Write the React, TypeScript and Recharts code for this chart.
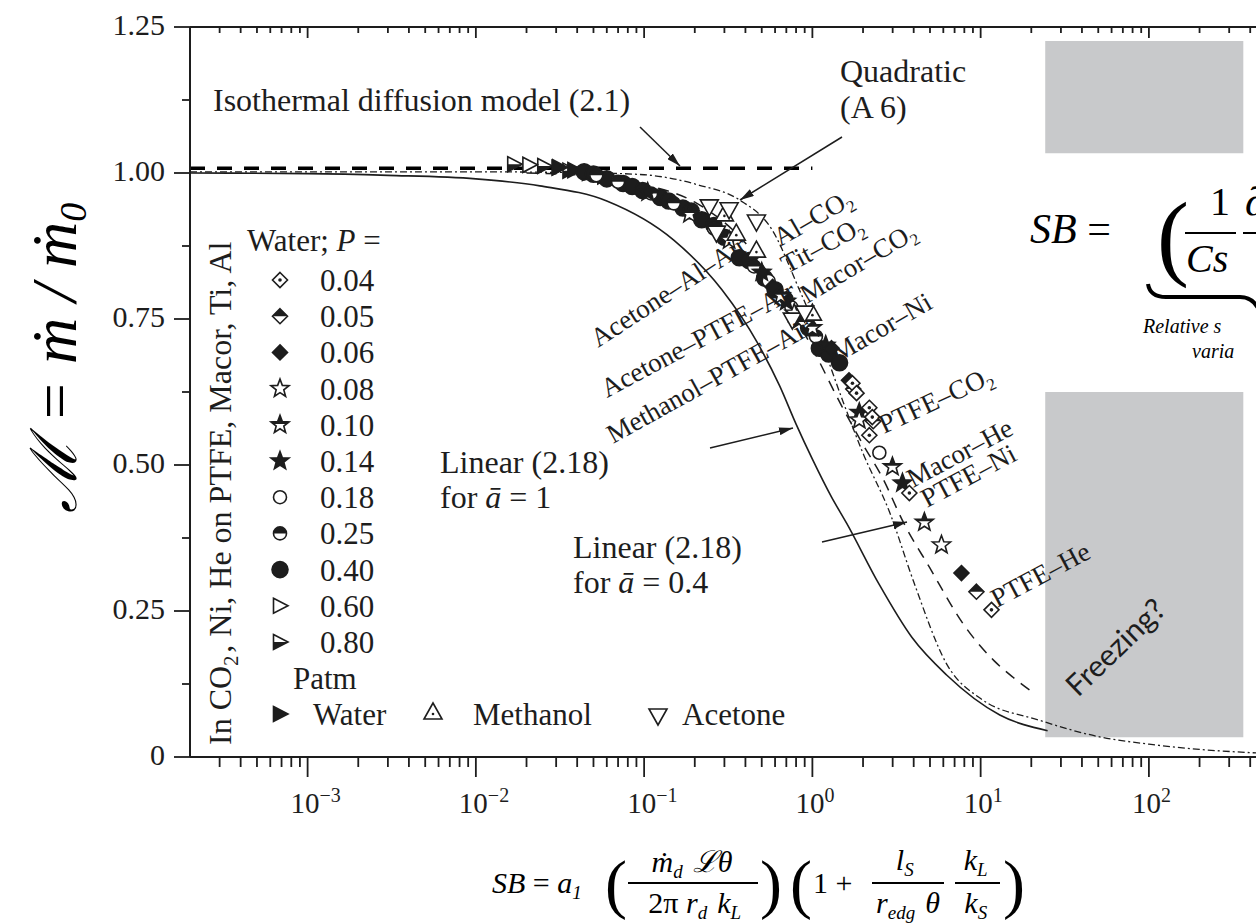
import React from "react";
import { ComposedChart, Line, Scatter, XAxis, YAxis, ReferenceArea } from "recharts";

const INK = "#1d1d1d";
const SERIF = '"Liberation Serif", "DejaVu Serif", serif';
const SANS = 'Lato, "Open Sans", sans-serif';

// axes
const xDomain = [0.0002, 433];
const xMajor = [0.001, 0.01, 0.1, 1, 10, 100];
const xMajorExp = ["−3", "−2", "−1", "0", "1", "2"];
const yMajor = [0, 0.25, 0.5, 0.75, 1, 1.25];
const yMajorLabels = ["0", "0.25", "0.50", "0.75", "1.00", "1.25"];
const yMinor = [0.125, 0.375, 0.625, 0.875, 1.125];

const xMinor: number[] = [];
for (let e = -4; e <= 2; e++) {
  for (let m = 2; m <= 9; m++) {
    const v = Number((m * Math.pow(10, e)).toPrecision(3));
    if (v > 0.0002001 && v < 433) xMinor.push(v);
  }
}
const xTicks = [...xMinor, ...xMajor].sort((a, b) => a - b);
const yTicks = [...yMajor, ...yMinor].sort((a, b) => a - b);

// model curves (SB, M)
const isothermal = [[0.0002, 1.008], [1, 1.008]];
const linearA1 = [
  [0.0002, 1.0], [0.001, 0.999], [0.003, 0.996], [0.01, 0.99], [0.024, 0.978],
  [0.06, 0.952], [0.15, 0.885], [0.29, 0.8], [0.47, 0.71], [0.64, 0.635],
  [0.8, 0.57], [1.0, 0.51], [1.3, 0.445], [1.6, 0.4], [2.5, 0.295],
  [3.9, 0.205], [6.3, 0.14], [13, 0.072], [25, 0.045],
];
const quadratic = [
  [0.0002, 1.002], [0.01, 1.002], [0.05, 1.0], [0.1, 0.997], [0.213, 0.979],
  [0.368, 0.954], [0.578, 0.902], [0.837, 0.8], [1.1, 0.72], [1.51, 0.611],
  [2.0, 0.52], [2.87, 0.42], [4.0, 0.3], [6.26, 0.16], [10, 0.1],
  [22.3, 0.063], [50, 0.035], [100, 0.022], [200, 0.013], [433, 0.007],
];
const linearA04 = [
  [0.02, 1.0], [0.05, 0.995], [0.1, 0.98], [0.2, 0.95], [0.4, 0.88],
  [0.7, 0.78], [1.0, 0.7], [1.5, 0.6], [2.0, 0.535], [2.6, 0.479],
  [3.5, 0.4], [4.96, 0.325], [8, 0.225], [12, 0.165], [15.5, 0.137], [19.5, 0.115],
];

// experimental points (SB, M)
const waterP004 = [[1.73, 0.64], [1.83, 0.623], [2.18, 0.598], [2.27, 0.582], [2.18, 0.551], [3.77, 0.452], [11.6, 0.252]];
const waterP005 = [[0.9, 0.745], [1.75, 0.63], [2.3, 0.575], [9.44, 0.283]];
const waterP006 = [[0.58, 0.805], [1.3, 0.7], [1.65, 0.645], [7.69, 0.315]];
const waterP008 = [[0.32, 0.885], [0.78, 0.76], [1.9, 0.577], [5.85, 0.363]];
const waterP010 = [[0.186, 0.93], [0.65, 0.79], [1.0, 0.735], [2.99, 0.497], [4.63, 0.402]];
const waterP014 = [[0.105, 0.967], [0.5, 0.83], [0.7, 0.78], [0.85, 0.75], [1.2, 0.705], [1.9, 0.59], [3.43, 0.469]];
const waterP018 = [[0.55, 0.815], [0.75, 0.77], [2.5, 0.521]];
const waterP025 = [[0.052, 0.996], [0.07, 0.985], [0.11, 0.965], [0.15, 0.948], [0.26, 0.905], [0.45, 0.84], [0.7, 0.785], [1.05, 0.72]];
const waterP040 = [
  [0.044, 1.002], [0.05, 0.998], [0.06, 0.99], [0.075, 0.982], [0.085, 0.977], [0.098, 0.97],
  [0.125, 0.958], [0.14, 0.952], [0.17, 0.94], [0.19, 0.935], [0.22, 0.92], [0.26, 0.91],
  [0.3, 0.89], [0.368, 0.855], [0.42, 0.85], [0.52, 0.82], [0.6, 0.8], [0.95, 0.735],
  [1.1, 0.7], [1.25, 0.69], [1.45, 0.675],
];
const waterP060 = [[0.0208, 1.014], [0.031, 1.009]];
const waterP080 = [[0.0169, 1.015], [0.0255, 1.012], [0.036, 1.004]];
const waterPatm = [[0.0313, 1.01], [0.0385, 1.005], [0.047, 1.0], [0.058, 0.994]];
const methanol = [[0.3, 0.93], [0.353, 0.897], [0.465, 0.868], [1.0, 0.76]];
const acetone = [[0.244, 0.942], [0.32, 0.937], [0.465, 0.916], [0.269, 0.897], [0.76, 0.748], [0.9, 0.76]];

const legendLabels = ["0.04", "0.05", "0.06", "0.08", "0.10", "0.14", "0.18", "0.25", "0.40", "0.60", "0.80"];
const legendKinds = ["diamondDot", "diamondHalf", "diamondFill", "starOpen", "starHalf", "starFill", "circleOpen", "circleHalf", "circleFill", "triROpen", "triRHalf"];

const pts = (arr: number[][]) => arr.map(([x, y]) => ({ x, y }));

const starPath = (cx: number, cy: number, s: number) => {
  let d = "";
  for (let i = 0; i < 10; i++) {
    const r = i % 2 === 0 ? s : s * 0.42;
    const a = (-90 + i * 36) * (Math.PI / 180);
    d += (i === 0 ? "M" : "L") + (cx + r * Math.cos(a)).toFixed(2) + "," + (cy + r * Math.sin(a)).toFixed(2);
  }
  return d + "Z";
};

const Mark = ({ kind, cx, cy }: { kind: string; cx: number; cy: number }) => {
  const sw = 1.6;
  const open = { fill: "#fff", stroke: INK, strokeWidth: sw };
  const full = { fill: INK, stroke: INK, strokeWidth: sw };
  const s = 7.5;
  const diamond = `M${cx},${cy - s}L${cx + s},${cy}L${cx},${cy + s}L${cx - s},${cy}Z`;
  const triR = `M${cx - 6.5},${cy - 7.5}L${cx + 8},${cy}L${cx - 6.5},${cy + 7.5}Z`;
  switch (kind) {
    case "diamondDot":
      return <g><path d={diamond} {...open} /><circle cx={cx} cy={cy} r={1.8} fill={INK} /></g>;
    case "diamondHalf":
      return <g><path d={diamond} {...open} /><path d={`M${cx - s},${cy}L${cx},${cy - s}L${cx + s},${cy}Z`} fill={INK} /></g>;
    case "diamondFill":
      return <path d={diamond} {...full} />;
    case "starOpen":
      return <path d={starPath(cx, cy, 9.5)} {...open} />;
    case "starHalf":
      return <g><path d={starPath(cx, cy, 9.5)} {...open} /><path d={starPath(cx, cy, 9.5)} fill={INK} clipPath="url(#mk-top)" /></g>;
    case "starFill":
      return <path d={starPath(cx, cy, 9.5)} {...full} />;
    case "circleOpen":
      return <circle cx={cx} cy={cy} r={6.5} {...open} />;
    case "circleHalf":
      return <g><circle cx={cx} cy={cy} r={6.5} {...open} /><path d={`M${cx - 6.5},${cy}A6.5,6.5 0 0 1 ${cx + 6.5},${cy}Z`} fill={INK} /></g>;
    case "circleFill":
      return <circle cx={cx} cy={cy} r={8} {...full} />;
    case "triROpen":
      return <path d={triR} {...open} />;
    case "triRHalf":
      return <g><path d={triR} {...open} /><path d={`M${cx - 6.5},${cy}L${cx + 8},${cy}L${cx - 6.5},${cy + 7.5}Z`} fill={INK} /></g>;
    case "triRFill":
      return <path d={triR} {...full} />;
    case "triUp":
      return <g><path d={`M${cx},${cy - 9}L${cx + 9},${cy + 7}L${cx - 9},${cy + 7}Z`} {...open} /><circle cx={cx} cy={cy + 2} r={1.3} fill={INK} /></g>;
    case "triDown":
      return <path d={`M${cx - 9},${cy - 7}L${cx + 9},${cy - 7}L${cx},${cy + 9}Z`} {...open} />;
    default:
      return null;
  }
};

const shapeOf = (kind: string) => (p: any) => <Mark kind={kind} cx={p.cx} cy={p.cy} />;

const isMajorX = (v: number) => xMajor.findIndex((m) => Math.abs(Math.log10(v) - Math.log10(m)) < 1e-6);

const BottomTick = ({ x, y, payload }: any) => {
  const i = isMajorX(payload.value);
  return (
    <g>
      <line x1={x} x2={x} y1={y} y2={y + (i >= 0 ? 20 : 10)} stroke={INK} strokeWidth={1.8} />
      {i >= 0 && (
        <text x={x - 17} y={y + 56} fontFamily={SERIF} fontSize={29} fill={INK}>
          10<tspan dy={-11} fontSize={20}>{xMajorExp[i]}</tspan>
        </text>
      )}
    </g>
  );
};

const TopTick = ({ x, y, payload }: any) => {
  const i = isMajorX(payload.value);
  return <line x1={x} x2={x} y1={y} y2={y + (i >= 0 ? 11 : 6)} stroke={INK} strokeWidth={1.8} />;
};

const LeftTick = ({ x, y, payload }: any) => {
  const i = yMajor.findIndex((m) => Math.abs(m - payload.value) < 1e-6);
  return (
    <g>
      <line x1={x} x2={x - (i >= 0 ? 16 : 8)} y1={y} y2={y} stroke={INK} strokeWidth={1.8} />
      {i >= 0 && (
        <text x={x - 25} y={y + 8} textAnchor="end" fontFamily={SERIF} fontSize={30} fill={INK}>
          {yMajorLabels[i]}
        </text>
      )}
    </g>
  );
};

const RotLabel = ({ x, y, a, children, size = 27, font = SERIF }: any) => (
  <text transform={`translate(${x},${y}) rotate(${a})`} fontFamily={font} fontSize={size} fill={INK}>
    {children}
  </text>
);

const Sub = ({ children, size = 17, dy = 6 }: any) => (
  <>
    <tspan dy={dy} fontSize={size}>{children}</tspan>
    <tspan dy={-dy}>{"\u200a"}</tspan>
  </>
);

const Overlay = () => (
  <svg width={1256} height={923} style={{ position: "absolute", left: 0, top: 0, pointerEvents: "none" }}>
    <defs>
      <marker id="arr" viewBox="0 0 14 8" refX="14" refY="4" markerWidth="14" markerHeight="8" markerUnits="userSpaceOnUse" orient="auto">
        <path d="M0,0L14,4L0,8Z" fill={INK} />
      </marker>
    </defs>

    {/* y axis title */}
    <text transform="translate(76,358) rotate(-90)" textAnchor="middle" fontFamily={SERIF} fontStyle="italic" fontSize={64} fill="#000">
      ℳ = ṁ / ṁ<tspan dy={10} fontSize={38}>0</tspan>
    </text>

    {/* model annotations */}
    <g fontFamily={SERIF} fontSize={32} fill={INK}>
      <text x={213} y={111}>Isothermal diffusion model (2.1)</text>
      <text x={840} y={82}>Quadratic</text>
      <text x={840} y={118}>(A 6)</text>
      <text x={440} y={473}>Linear (2.18)</text>
      <text x={440} y={508}>for <tspan fontStyle="italic">ā</tspan> = 1</text>
      <text x={573} y={558}>Linear (2.18)</text>
      <text x={573} y={593}>for <tspan fontStyle="italic">ā</tspan> = 0.4</text>
    </g>
    <g stroke={INK} strokeWidth={1.5}>
      <line x1={640} y1={127} x2={680} y2={166} markerEnd="url(#arr)" />
      <line x1={842} y1={137} x2={740} y2={200} markerEnd="url(#arr)" />
      <line x1={710} y1={448} x2={793} y2={428} markerEnd="url(#arr)" />
      <line x1={822} y1={542} x2={907} y2={522} markerEnd="url(#arr)" />
    </g>

    {/* data set labels */}
    <RotLabel x={598} y={348} a={-33}>Acetone–Al–Air</RotLabel>
    <RotLabel x={607} y={398} a={-28}>Acetone–PTFE–Air</RotLabel>
    <RotLabel x={613} y={444} a={-29}>Methanol–PTFE–Air</RotLabel>
    <RotLabel x={780} y={247} a={-30}>Al–CO<Sub>2</Sub></RotLabel>
    <RotLabel x={787} y={274} a={-28}>Tit–CO<Sub>2</Sub></RotLabel>
    <RotLabel x={807} y={304} a={-31}>Macor–CO<Sub>2</Sub></RotLabel>
    <RotLabel x={838} y={363} a={-30}>Macor–Ni</RotLabel>
    <RotLabel x={884} y={434} a={-25}>PTFE–CO<Sub>2</Sub></RotLabel>
    <RotLabel x={913} y={488} a={-28}>Macor–He</RotLabel>
    <RotLabel x={927} y={508} a={-28}>PTFE–Ni</RotLabel>
    <RotLabel x={997} y={608} a={-28}>PTFE–He</RotLabel>
    <RotLabel x={1078} y={698} a={-44} size={30} font={SANS}>Freezing?</RotLabel>

    {/* legend */}
    <text transform="translate(231,745) rotate(-90)" fontFamily={SERIF} fontSize={32} fill={INK}>
      In CO<Sub size={21} dy={7}>2</Sub>, Ni, He on PTFE, Macor, Ti, Al
    </text>
    <text x={247} y={251} fontFamily={SERIF} fontSize={31} fill={INK}>
      Water; <tspan fontStyle="italic">P</tspan> =
    </text>
    {legendKinds.map((k, i) => (
      <g key={k}>
        <Mark kind={k} cx={280} cy={280 + i * 36.2} />
        <text x={320} y={291 + i * 36.2} fontFamily={SERIF} fontSize={31} fill={INK}>{legendLabels[i]}</text>
      </g>
    ))}
    <text x={293} y={689} fontFamily={SERIF} fontSize={31} fill={INK}>Patm</text>
    <Mark kind="triRFill" cx={280} cy={714} />
    <text x={313} y={725} fontFamily={SERIF} fontSize={31} fill={INK}>Water</text>
    <Mark kind="triUp" cx={433} cy={712} />
    <text x={473} y={725} fontFamily={SERIF} fontSize={31} fill={INK}>Methanol</text>
    <Mark kind="triDown" cx={658} cy={716} />
    <text x={682} y={725} fontFamily={SERIF} fontSize={31} fill={INK}>Acetone</text>

    {/* x axis title formula */}
    <g fontFamily={SERIF} fontSize={30} fill="#000" fontStyle="italic">
      <text x={492} y={893}>SB<tspan fontStyle="normal"> = </tspan>a<Sub size={19}>1</Sub></text>
      <text x={605} y={906} fontSize={66} fontStyle="normal">(</text>
      <text x={692} y={872} textAnchor="middle">ṁ<Sub size={19}>d</Sub> ℒθ</text>
      <line x1={628} y1={883} x2={758} y2={883} stroke="#000" strokeWidth={2} />
      <text x={696} y={913} textAnchor="middle"><tspan fontStyle="normal">2π </tspan>r<Sub size={19}>d</Sub> k<Sub size={19}>L</Sub></text>
      <text x={760} y={906} fontSize={66} fontStyle="normal">)</text>
      <text x={790} y={906} fontSize={66} fontStyle="normal">(</text>
      <text x={813} y={893} fontStyle="normal">1 +</text>
      <text x={906} y={870} textAnchor="middle">l<Sub size={19}>S</Sub></text>
      <line x1={872} y1={883} x2={944} y2={883} stroke="#000" strokeWidth={2} />
      <text x={908} y={913} textAnchor="middle">r<Sub size={19}>edg</Sub> θ</text>
      <text x={977} y={870} textAnchor="middle">k<Sub size={19}>L</Sub></text>
      <line x1={955} y1={883} x2={1000} y2={883} stroke="#000" strokeWidth={2} />
      <text x={977} y={913} textAnchor="middle">k<Sub size={19}>S</Sub></text>
      <text x={1003} y={906} fontSize={66} fontStyle="normal">)</text>
    </g>

    {/* partially cropped equation at right */}
    <g fontFamily={SERIF} fill="#000">
      <text x={1030} y={243} fontSize={42} fontStyle="italic">SB<tspan fontStyle="normal"> = </tspan></text>
      <text x={1157} y={268} fontSize={96}>(</text>
      <text x={1210} y={215} fontSize={40}>1</text>
      <line x1={1185} y1={233} x2={1236} y2={233} stroke="#000" strokeWidth={2} />
      <text x={1186} y={272} fontSize={40} fontStyle="italic">Cs</text>
      <text x={1245} y={215} fontSize={40} fontStyle="italic">∂</text>
      <line x1={1243} y1={233} x2={1256} y2={233} stroke="#000" strokeWidth={2} />
      <path d="M1148,284 Q1150,297 1166,297 L1240,297 Q1252,297 1258,308" fill="none" stroke="#000" strokeWidth={4} />
      <text x={1143} y={333} fontSize={20} fontStyle="italic">Relative s</text>
      <text x={1192} y={358} fontSize={20} fontStyle="italic">varia</text>
    </g>
  </svg>
);

export default function App() {
  return (
    <div style={{ position: "absolute", left: 0, top: 0, width: 1256, height: 923, overflow: "hidden", background: "#fff" }}>
      <svg width={0} height={0} style={{ position: "absolute" }}>
        <defs>
          <clipPath id="mk-top" clipPathUnits="objectBoundingBox">
            <rect x={0} y={0} width={1} height={0.5} />
          </clipPath>
        </defs>
      </svg>
      <ComposedChart width={1256} height={923} margin={{ top: 26, right: 0, bottom: 106, left: 0 }}>
        <XAxis
          dataKey="x"
          type="number"
          scale="log"
          domain={xDomain}
          allowDataOverflow
          ticks={xTicks}
          interval={0}
          height={60}
          tickSize={0}
          tickMargin={0}
          tickLine={false}
          tick={<BottomTick />}
          axisLine={{ stroke: INK, strokeWidth: 2 }}
        />
        <XAxis
          xAxisId="top"
          orientation="top"
          dataKey="x"
          type="number"
          scale="log"
          domain={xDomain}
          allowDataOverflow
          ticks={xTicks}
          interval={0}
          height={1}
          tickSize={0}
          tickMargin={0}
          tickLine={false}
          tick={<TopTick />}
          axisLine={{ stroke: INK, strokeWidth: 2 }}
        />
        <YAxis
          dataKey="y"
          type="number"
          domain={[0, 1.25]}
          allowDataOverflow
          ticks={yTicks}
          interval={0}
          width={190}
          tickSize={0}
          tickMargin={0}
          tickLine={false}
          tick={<LeftTick />}
          axisLine={{ stroke: INK, strokeWidth: 2 }}
        />
        <ReferenceArea x1={24.2} x2={364} y1={1.034} y2={1.226} fill="#c8c9cb" fillOpacity={1} stroke="none" />
        <ReferenceArea x1={24.2} x2={364} y1={0.034} y2={0.625} fill="#c8c9cb" fillOpacity={1} stroke="none" />

        <Line data={pts(linearA1)} dataKey="y" type="monotone" stroke={INK} strokeWidth={1.6} dot={false} isAnimationActive={false} />
        <Line data={pts(quadratic)} dataKey="y" type="monotone" stroke={INK} strokeWidth={1.3} strokeDasharray="7 3 2 3" dot={false} isAnimationActive={false} />
        <Line data={pts(linearA04)} dataKey="y" type="monotone" stroke={INK} strokeWidth={1.5} strokeDasharray="11 8" dot={false} isAnimationActive={false} />
        <Line data={pts(isothermal)} dataKey="y" type="linear" stroke="#000" strokeWidth={3.5} strokeDasharray="15 12" dot={false} isAnimationActive={false} />

        <Scatter data={pts(waterP080)} shape={shapeOf("triRHalf")} isAnimationActive={false} />
        <Scatter data={pts(waterP060)} shape={shapeOf("triROpen")} isAnimationActive={false} />
        <Scatter data={pts(waterPatm)} shape={shapeOf("triRFill")} isAnimationActive={false} />
        <Scatter data={pts(waterP040)} shape={shapeOf("circleFill")} isAnimationActive={false} />
        <Scatter data={pts(waterP025)} shape={shapeOf("circleHalf")} isAnimationActive={false} />
        <Scatter data={pts(waterP018)} shape={shapeOf("circleOpen")} isAnimationActive={false} />
        <Scatter data={pts(waterP014)} shape={shapeOf("starFill")} isAnimationActive={false} />
        <Scatter data={pts(waterP010)} shape={shapeOf("starHalf")} isAnimationActive={false} />
        <Scatter data={pts(waterP008)} shape={shapeOf("starOpen")} isAnimationActive={false} />
        <Scatter data={pts(waterP006)} shape={shapeOf("diamondFill")} isAnimationActive={false} />
        <Scatter data={pts(waterP005)} shape={shapeOf("diamondHalf")} isAnimationActive={false} />
        <Scatter data={pts(waterP004)} shape={shapeOf("diamondDot")} isAnimationActive={false} />
        <Scatter data={pts(methanol)} shape={shapeOf("triUp")} isAnimationActive={false} />
        <Scatter data={pts(acetone)} shape={shapeOf("triDown")} isAnimationActive={false} />
      </ComposedChart>
      <Overlay />
    </div>
  );
}
